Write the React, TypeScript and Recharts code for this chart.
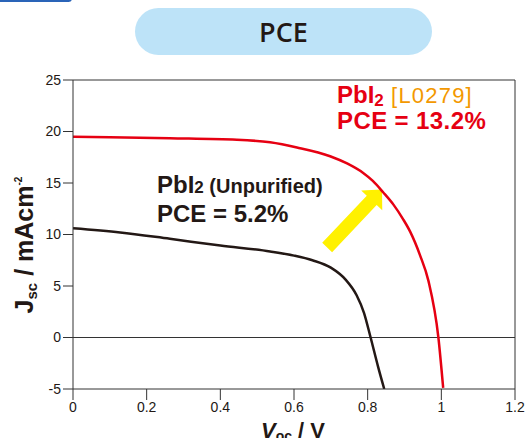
import React from 'react';
import { LineChart, Line, XAxis, YAxis, ReferenceLine } from 'recharts';

const xTicks = [0, 0.2, 0.4, 0.6, 0.8, 1, 1.2];
const yTicks = [-5, 0, 5, 10, 15, 20, 25];

const purifiedV = [0, 0.1, 0.263, 0.445, 0.535, 0.608, 0.698, 0.744, 0.787, 0.814, 0.842, 0.87, 0.896, 0.915, 0.942, 0.965, 0.992, 1.005];
const purifiedJ = [19.5, 19.45, 19.35, 19.2, 18.95, 18.45, 17.6, 16.9, 16.0, 15.2, 14.1, 12.9, 11.5, 10.3, 8.0, 5.5, 0, -4.9];

const unpurifiedV = [0, 0.128, 0.263, 0.4, 0.535, 0.6, 0.65, 0.7, 0.74, 0.77, 0.79, 0.808, 0.828, 0.845];
const unpurifiedJ = [10.6, 10.2, 9.58, 8.93, 8.35, 7.95, 7.5, 6.78, 5.62, 4.1, 2.4, 0, -2.8, -5];

const arrowFrom = { x: 0.69, y: 8.74 };
const arrowTo = { x: 0.839, y: 14.37 };

const purified = purifiedV.map((v, i) => ({ v, j: purifiedJ[i] }));
const unpurified = unpurifiedV.map((v, i) => ({ v, j: unpurifiedJ[i] }));

const FONT = '"Liberation Sans", Arial, Helvetica, sans-serif';
const DARK = '#231815';
const RED = '#e60012';
const ORANGE = '#f39800';

const ArrowShape = (props: any) => {
  const { x1, y1, x2, y2 } = props;
  if ([x1, y1, x2, y2].some((n) => typeof n !== 'number' || isNaN(n))) return <g />;
  const dx = x2 - x1;
  const dy = y2 - y1;
  const len = Math.sqrt(dx * dx + dy * dy);
  const ux = dx / len;
  const uy = dy / len;
  const nx = -uy;
  const ny = ux;
  const headLen = 15;
  const shaftW = 6.8;
  const headW = 14.5;
  const bx = x2 - ux * headLen;
  const by = y2 - uy * headLen;
  const pts = [
    [x1 + nx * shaftW, y1 + ny * shaftW],
    [bx + nx * shaftW, by + ny * shaftW],
    [bx + nx * headW, by + ny * headW],
    [x2, y2],
    [bx - nx * headW, by - ny * headW],
    [bx - nx * shaftW, by - ny * shaftW],
    [x1 - nx * shaftW, y1 - ny * shaftW],
  ]
    .map((p) => p.join(','))
    .join(' ');
  return <polygon points={pts} fill="#fff100" stroke="none" />;
};

export default function App() {
  return (
    <div
      style={{
        position: 'absolute',
        left: 0,
        top: 0,
        width: 525,
        height: 438,
        background: '#fff',
        overflow: 'hidden',
        fontFamily: FONT,
      }}
    >
      <div
        style={{
          position: 'absolute',
          left: -20,
          top: -5,
          width: 92,
          height: 7,
          borderRadius: 4,
          background: '#2a64b8',
        }}
      />
      <div
        style={{
          position: 'absolute',
          left: 135,
          top: 8,
          width: 297,
          height: 47,
          borderRadius: 24,
          background: '#bde3f8',
          display: 'flex',
          alignItems: 'center',
          justifyContent: 'center',
          fontFamily: '"Open Sans", sans-serif',
          fontWeight: 600,
          fontSize: 27,
          color: DARK,
        }}
      >
        PCE
      </div>
      <div style={{ position: 'absolute', left: 0, top: 0 }}>
        <LineChart width={525} height={438} margin={{ top: 80, right: 10, bottom: 0, left: 0 }}>
          <XAxis
            type="number"
            dataKey="v"
            domain={[0, 1.2]}
            ticks={xTicks}
            allowDataOverflow
            height={49}
            tickSize={11}
            tickMargin={2}
            axisLine={{ stroke: '#333', strokeWidth: 1 }}
            tickLine={{ stroke: '#333', strokeWidth: 1 }}
            tick={{ fill: DARK, fontSize: 14, fontFamily: FONT }}
          />
          <YAxis
            type="number"
            domain={[-5, 25]}
            ticks={yTicks}
            allowDataOverflow
            width={73}
            tickSize={10}
            tickMargin={2}
            axisLine={{ stroke: '#333', strokeWidth: 1 }}
            tickLine={{ stroke: '#333', strokeWidth: 1 }}
            tick={{ fill: DARK, fontSize: 14, fontFamily: FONT }}
          />
          <ReferenceLine y={25} stroke="#333" strokeWidth={1} />
          <ReferenceLine x={1.2} stroke="#333" strokeWidth={1} />
          <ReferenceLine y={0} stroke="#333" strokeWidth={1} />
          <ReferenceLine segment={[arrowFrom, arrowTo]} shape={ArrowShape} />
          <Line
            data={unpurified}
            dataKey="j"
            type="monotone"
            stroke={DARK}
            strokeWidth={2.5}
            dot={false}
            isAnimationActive={false}
          />
          <Line
            data={purified}
            dataKey="j"
            type="monotone"
            stroke={RED}
            strokeWidth={2.5}
            dot={false}
            isAnimationActive={false}
          />
        </LineChart>
      </div>
      <svg
        width={525}
        height={438}
        style={{ position: 'absolute', left: 0, top: 0, pointerEvents: 'none' }}
      >
        <text x={337} y={103} fontFamily={FONT} fontWeight="bold" fontSize={24} fill={RED}>
          PbI
          <tspan fontSize={17} dy={3}>2</tspan>
          <tspan dy={-3} fontWeight="normal" fontSize={22} fill={ORANGE} letterSpacing={1.2}> [L0279]</tspan>
        </text>
        <text x={337} y={129} fontFamily={FONT} fontWeight="bold" fontSize={24} fill={RED} letterSpacing={0.4}>
          PCE = 13.2%
        </text>
        <text x={157} y={193} fontFamily={FONT} fontWeight="bold" fontSize={24} fill={DARK}>
          PbI
          <tspan fontSize={17}>2</tspan>
          <tspan fontSize={20}> (Unpurified)</tspan>
        </text>
        <text x={157} y={222} fontFamily={FONT} fontWeight="bold" fontSize={24} fill={DARK}>
          PCE = 5.2%
        </text>
        <text
          transform="translate(33,245) rotate(-90)"
          textAnchor="middle"
          fontFamily={FONT}
          fontWeight="bold"
          fontSize={25}
          fill={DARK}
        >
          J
          <tspan fontSize={15} dy={4}>sc</tspan>
          <tspan dy={-4}> / mAcm</tspan>
          <tspan fontSize={10} dy={-11}>-2</tspan>
        </text>
        <text
          x={293}
          y={438}
          textAnchor="middle"
          fontFamily={FONT}
          fontWeight="bold"
          fontSize={22}
          fill={DARK}
        >
          <tspan fontStyle="italic">V</tspan>
          <tspan fontSize={14} dy={3}>oc</tspan>
          <tspan dy={-3}> / V</tspan>
        </text>
      </svg>
    </div>
  );
}
